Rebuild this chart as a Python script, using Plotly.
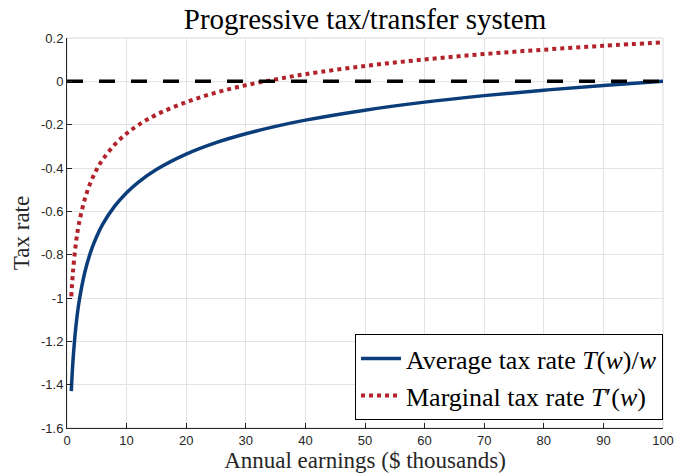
import plotly.graph_objects as go

# Annual earnings ($ thousands)
earnings = [0.72, 1, 1.5, 2, 3, 4, 5, 6, 8, 10, 12, 15, 20, 25, 30, 35, 40, 50, 60, 70, 80, 90, 100]
# Average tax rate T(w)/w
avg_rate = [-1.430, -1.291, -1.130, -1.022, -0.880, -0.785, -0.715, -0.659, -0.576, -0.514,
            -0.465, -0.407, -0.336, -0.283, -0.242, -0.208, -0.179, -0.133, -0.096, -0.066,
            -0.041, -0.019, 0.000]
# Marginal tax rate T'(w)
marg_rate = [-0.993, -0.879, -0.746, -0.658, -0.542, -0.464, -0.406, -0.361, -0.292, -0.241,
             -0.201, -0.154, -0.096, -0.052, -0.018, 0.009, 0.033, 0.071, 0.101, 0.126,
             0.146, 0.164, 0.180]
# zero reference line
zero_x = [0, 100]
zero_y = [0, 0]

x_ticks = [0, 10, 20, 30, 40, 50, 60, 70, 80, 90, 100]
y_ticks = [0.2, 0, -0.2, -0.4, -0.6, -0.8, -1, -1.2, -1.4, -1.6]
y_tick_labels = ["0.2", "0", "-0.2", "-0.4", "-0.6", "-0.8", "-1", "-1.2", "-1.4", "-1.6"]

SERIF = "Liberation Serif, DejaVu Serif, serif"
SANS = "Liberation Sans, Arial, Helvetica, sans-serif"
BLUE = "#0b3d7a"
RED = "#b2222a"
AXC = "#262626"

W, H = 674, 474

fig = go.Figure()
fig.add_trace(go.Scatter(x=earnings, y=avg_rate, mode="lines", line_shape="spline",
                         line=dict(color=BLUE, width=3.5),
                         name="Average tax rate <i>T</i>(<i>w</i>)/<i>w</i>"))
fig.add_trace(go.Scatter(x=earnings, y=marg_rate, mode="lines", line_shape="spline",
                         line=dict(color=RED, width=4, dash="dot"),
                         name="Marginal tax rate <i>T</i>′(<i>w</i>)"))
fig.add_trace(go.Scatter(x=zero_x, y=zero_y, mode="lines",
                         line=dict(color="black", width=3.5, dash="16px,16px"),
                         showlegend=False, hoverinfo="skip"))

# light grey box (top & right)
fig.add_shape(type="rect", xref="x domain", yref="y domain", x0=0, x1=1, y0=0, y1=1,
              line=dict(color="#d9d9d9", width=1), layer="below")

fig.update_layout(
    width=W, height=H,
    margin=dict(l=67, r=11, t=38, b=46, autoexpand=False),
    paper_bgcolor="white", plot_bgcolor="white",
    title=dict(text="Progressive tax/transfer system", x=((67 + 663) / 2) / W, xanchor="center",
               y=1 - 19 / H, yanchor="middle", automargin=False,
               font=dict(family=SERIF, size=29, color="black")),
    xaxis=dict(range=[0, 100], tickvals=x_ticks, ticks="inside", ticklen=5, tickcolor=AXC,
               showline=True, linecolor=AXC, linewidth=1, mirror=False, automargin=False,
               showgrid=True, gridcolor="#e3e3e3", gridwidth=1, zeroline=False,
               tickfont=dict(family=SANS, size=13, color=AXC),
               title=dict(text="Annual earnings ($ thousands)", standoff=2,
                          font=dict(family=SERIF, size=23, color=AXC))),
    yaxis=dict(range=[-1.6, 0.2], tickvals=y_ticks, ticktext=y_tick_labels, ticks="inside",
               ticklen=5, tickcolor=AXC,
               showline=True, linecolor=AXC, linewidth=1, mirror=False, automargin=False,
               showgrid=True, gridcolor="#e3e3e3", gridwidth=1, zeroline=False,
               tickfont=dict(family=SANS, size=13, color=AXC),
               title=dict(text="Tax rate", standoff=4,
                          font=dict(family=SERIF, size=23, color=AXC))),
    legend=dict(x=1, xanchor="right", y=0.02, yanchor="bottom",
                bgcolor="white", bordercolor="black", borderwidth=1,
                font=dict(family=SERIF, size=26, color="black"),
                itemwidth=40, tracegroupgap=0),
    showlegend=True,
)

fig.write_html("out.html", config={"displayModeBar": False},
               post_script="document.body.style.margin='0';document.body.style.overflow='hidden';")
